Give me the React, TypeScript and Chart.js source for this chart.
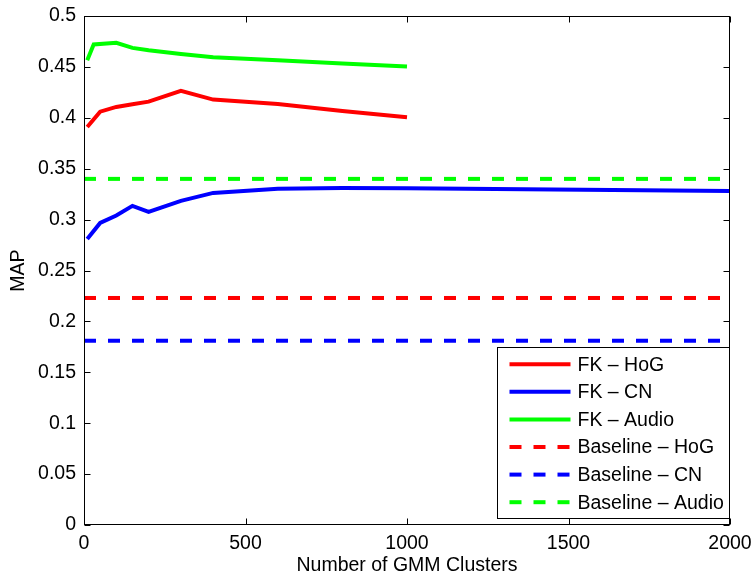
import React, { useEffect, useRef } from "react";
import { Chart, registerables } from "chart.js";

Chart.register(...registerables);

// ---- data ----
const clustersHoG = [10, 50, 100, 150, 200, 300, 400, 600, 800, 1000];
const fkHoG = [0.391, 0.406, 0.4107, 0.4133, 0.4159, 0.4264, 0.4179, 0.4135, 0.4067, 0.4005];

const clustersCN = [10, 50, 100, 150, 200, 300, 400, 600, 800, 1000, 2000];
const fkCN = [0.281, 0.2967, 0.304, 0.3135, 0.3076, 0.3184, 0.3262, 0.3302, 0.331, 0.3307, 0.328];

const clustersAudio = [10, 30, 100, 150, 200, 300, 400, 600, 800, 1000];
const fkAudio = [0.4565, 0.472, 0.4736, 0.4687, 0.4663, 0.4627, 0.4595, 0.4565, 0.4533, 0.4503];

const baselineRange = [0, 2000];
const baselineHoG = 0.223;
const baselineCN = 0.181;
const baselineAudio = 0.34;

const seriesLabels = [
  "FK \u2013 HoG",
  "FK \u2013 CN",
  "FK \u2013 Audio",
  "Baseline \u2013 HoG",
  "Baseline \u2013 CN",
  "Baseline \u2013 Audio",
];

const xTitle = "Number of GMM Clusters";
const yTitle = "MAP";

const FONT = "'Liberation Sans', Arial, Helvetica, sans-serif";
const FONT_SIZE = 19.5;
const RED = "#ff0000";
const BLUE = "#0000ff";
const GREEN = "#00ff00";
const DASH = [12, 12];

const pts = (xs: number[], ys: number[]) => xs.map((x, i) => ({ x, y: ys[i] }));
const flat = (v: number) => baselineRange.map((x) => ({ x, y: v }));

const matlabPlugin = {
  id: "matlabBox",
  afterDatasetsDraw(chart: any) {
    const { ctx, chartArea: a, scales } = chart;
    const L = Math.round(a.left) + 0.5;
    const R = Math.round(a.right) - 0.5;
    const T = Math.round(a.top) + 0.5;
    const B = Math.round(a.bottom) - 0.5;
    const tl = 6;
    ctx.save();
    ctx.strokeStyle = "#000";
    ctx.lineWidth = 1;
    ctx.beginPath();
    scales.x.ticks.forEach((t: any) => {
      const px = Math.round(scales.x.getPixelForValue(t.value)) + 0.5;
      ctx.moveTo(px, B);
      ctx.lineTo(px, B - tl);
      ctx.moveTo(px, T);
      ctx.lineTo(px, T + tl);
    });
    scales.y.ticks.forEach((t: any) => {
      const py = Math.round(scales.y.getPixelForValue(t.value)) + 0.5;
      ctx.moveTo(L, py);
      ctx.lineTo(L + tl, py);
      ctx.moveTo(R, py);
      ctx.lineTo(R - tl, py);
    });
    ctx.stroke();
    ctx.strokeRect(L, T, R - L, B - T);

    // legend box (bottom-right, inside axes)
    const ds = chart.data.datasets;
    ctx.font = `${FONT_SIZE}px ${FONT}`;
    let maxW = 0;
    ds.forEach((d: any) => {
      maxW = Math.max(maxW, ctx.measureText(d.label).width);
    });
    const rowH = 27.6;
    const padTop = 16.7;
    const sampleL = 12;
    const sampleW = 61;
    const gap = 7;
    const boxW = Math.round(sampleL + sampleW + gap + maxW + 6);
    const boxH = Math.round(padTop * 2 + rowH * (ds.length - 1));
    const bx = Math.round(a.right) - 1 - boxW + 0.5;
    const by = Math.round(a.bottom) - 7 - boxH + 0.5;
    ctx.fillStyle = "#fff";
    ctx.fillRect(bx, by, boxW, boxH);
    ctx.strokeStyle = "#000";
    ctx.lineWidth = 1;
    ctx.strokeRect(bx, by, boxW, boxH);
    ds.forEach((d: any, i: number) => {
      const cy = by + padTop + i * rowH;
      ctx.save();
      ctx.strokeStyle = d.borderColor;
      ctx.lineWidth = d.borderWidth;
      ctx.setLineDash(d.borderDash || []);
      ctx.beginPath();
      ctx.moveTo(bx + sampleL, cy);
      ctx.lineTo(bx + sampleL + sampleW, cy);
      ctx.stroke();
      ctx.restore();
      ctx.fillStyle = "#000";
      ctx.textAlign = "left";
      ctx.textBaseline = "middle";
      ctx.fillText(d.label, bx + sampleL + sampleW + gap, cy + 1);
    });
    ctx.restore();
  },
};

export default function App() {
  const ref = useRef<HTMLCanvasElement | null>(null);

  useEffect(() => {
    document.body.style.margin = "0";
    const canvas = ref.current;
    if (!canvas) return;
    const line = (label: string, data: any[], color: string, dash?: number[]) => ({
      label,
      data,
      borderColor: color,
      backgroundColor: color,
      borderWidth: 4,
      borderDash: dash || [],
      pointRadius: 0,
      pointHoverRadius: 0,
      tension: 0,
      fill: false,
    });
    const chart = new Chart(canvas, {
      type: "line",
      data: {
        datasets: [
          line(seriesLabels[0], pts(clustersHoG, fkHoG), RED),
          line(seriesLabels[1], pts(clustersCN, fkCN), BLUE),
          line(seriesLabels[2], pts(clustersAudio, fkAudio), GREEN),
          line(seriesLabels[3], flat(baselineHoG), RED, DASH),
          line(seriesLabels[4], flat(baselineCN), BLUE, DASH),
          line(seriesLabels[5], flat(baselineAudio), GREEN, DASH),
        ],
      },
      options: {
        responsive: false,
        animation: false,
        devicePixelRatio: 1,
        layout: { padding: { left: 0, right: 22, top: 16, bottom: 0 } },
        plugins: {
          legend: { display: false },
          tooltip: { enabled: false },
        },
        scales: {
          x: {
            type: "linear",
            min: 0,
            max: 2000,
            grid: { display: false, drawTicks: false },
            border: { display: false },
            ticks: {
              stepSize: 500,
              padding: 7,
              maxRotation: 0,
              color: "#000",
              font: { family: FONT, size: FONT_SIZE },
              callback: (v: any) => String(v),
            },
            title: {
              display: true,
              text: xTitle,
              color: "#000",
              padding: { top: -4, bottom: 0 },
              font: { family: FONT, size: FONT_SIZE },
            },
            afterFit: (s: any) => {
              s.height = 52;
              s.paddingLeft = 0;
              s.paddingRight = 0;
            },
          },
          y: {
            type: "linear",
            min: 0,
            max: 0.5,
            grid: { display: false, drawTicks: false },
            border: { display: false },
            ticks: {
              stepSize: 0.05,
              padding: 8,
              color: "#000",
              font: { family: FONT, size: FONT_SIZE },
              callback: (v: any) => String(Number(Number(v).toFixed(2))),
            },
            title: {
              display: true,
              text: yTitle,
              color: "#000",
              padding: { top: 7, bottom: 0 },
              font: { family: FONT, size: FONT_SIZE },
            },
            afterFit: (s: any) => {
              s.width = 84;
              s.paddingTop = 0;
              s.paddingBottom = 0;
            },
          },
        },
      },
      plugins: [matlabPlugin],
    } as any);
    return () => chart.destroy();
  }, []);

  return (
    <div style={{ width: 752, height: 577, background: "#fff" }}>
      <canvas ref={ref} width={752} height={577} style={{ display: "block" }} />
    </div>
  );
}
